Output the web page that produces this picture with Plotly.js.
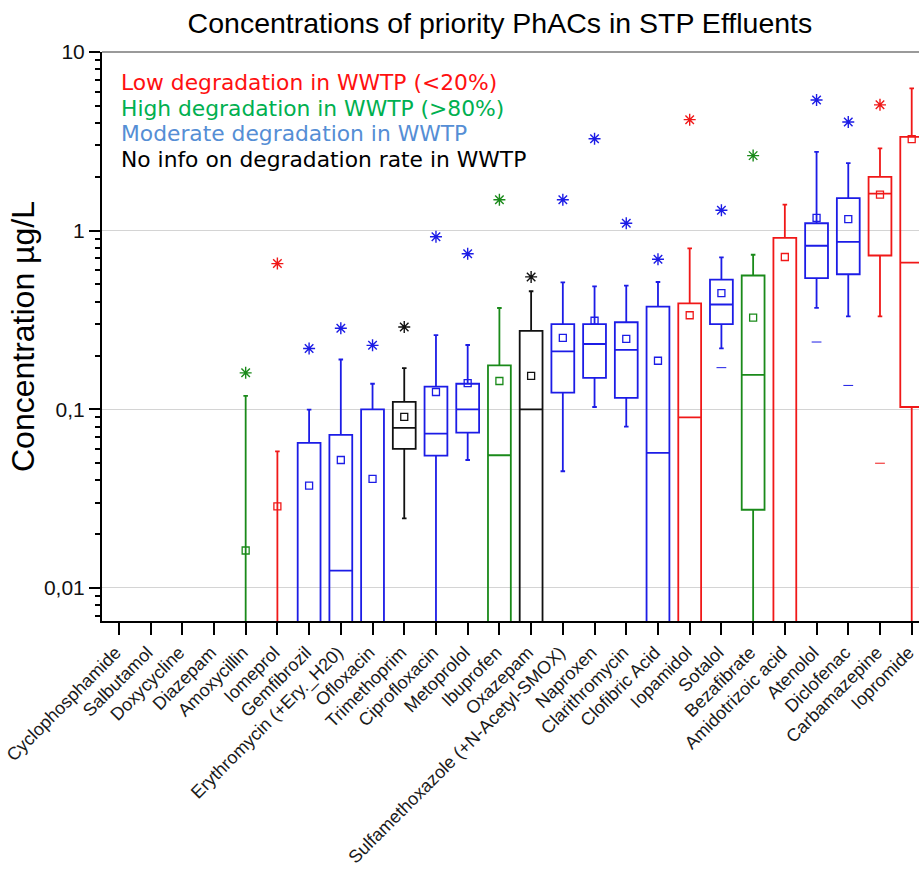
<!DOCTYPE html>
<html>
<head>
<meta charset="utf-8">
<script src="https://cdn.plot.ly/plotly-3.0.1.min.js"></script>
<style>html,body{margin:0;padding:0;background:#fff;overflow:hidden}</style>
</head>
<body>
<div id="chart" style="width:919px;height:869px"></div>
<script>
// ---- data (µg/L) ----
const categories = ['Cyclophosphamide','Salbutamol','Doxycycline','Diazepam','Amoxycillin','Iomeprol','Gemfibrozil',
  'Erythromycin (+Ery._H20)','Ofloxacin','Trimethoprim','Ciprofloxacin','Metoprolol','Ibuprofen','Oxazepam',
  'Sulfamethoxazole (+N-Acetyl-SMOX)','Naproxen','Clarithromycin','Clofibric Acid','Iopamidol','Sotalol',
  'Bezafibrate','Amidotrizoic acid','Atenolol','Diclofenac','Carbamazepine','Iopromide'];
// degradation class of each compound
const degradation = [null,null,null,null,'high','low','moderate','moderate','moderate','none','moderate','moderate',
  'high','none','moderate','moderate','moderate','moderate','low','moderate','high','low','moderate','moderate','low','low'];
// values below the lower edge of the axis (not readable) are given as 0.002
const whiskerLow = [null,null,null,null,0.002,0.002,0.002,0.002,0.002,0.0245,0.002,0.052,0.002,0.002,0.045,0.103,0.080,0.002,0.002,0.219,0.002,0.002,0.370,0.331,0.331,0.002];
const q1Values   = [null,null,null,null,0.002,0.002,0.002,0.002,0.002,0.060,0.055,0.0741,0.002,0.002,0.124,0.150,0.116,0.002,0.002,0.300,0.0274,0.002,0.542,0.570,0.726,0.103];
const medians    = [null,null,null,null,0.002,0.002,0.002,0.0125,0.002,0.0787,0.0731,0.100,0.0553,0.100,0.211,0.232,0.215,0.057,0.0902,0.386,0.156,0.002,0.823,0.865,1.61,0.662];
const q3Values   = [null,null,null,null,0.002,0.002,0.0649,0.0719,0.100,0.110,0.134,0.139,0.176,0.275,0.300,0.300,0.307,0.376,0.392,0.532,0.561,0.912,1.10,1.52,2.00,3.35];
const whiskerHigh= [null,null,null,null,0.119,0.0582,0.0996,0.190,0.139,0.170,0.260,0.229,0.369,0.458,0.514,0.488,0.492,0.516,0.796,0.709,0.733,1.40,2.76,2.39,2.89,6.26];
const means      = [null,null,null,null,0.0162,0.0286,0.0374,0.052,0.0408,0.0906,0.125,0.140,0.144,0.154,0.251,0.313,0.248,0.187,0.336,0.447,0.326,0.712,1.18,1.16,1.59,3.25];
const maxima     = [null,null,null,null,0.16,0.654,0.219,0.284,0.228,0.289,0.925,0.743,1.49,0.551,1.49,3.27,1.10,0.691,4.18,1.30,2.63,null,5.39,4.06,5.06,null];
const minima     = [null,null,null,null,null,null,null,null,null,null,null,null,null,null,null,null,null,null,null,0.171,null,null,0.238,0.136,0.0499,null];

const legendLines = [
  {key:'low', text:'Low degradation in WWTP (<20%)', color:'#ff1010'},
  {key:'high', text:'High degradation in WWTP (>80%)', color:'#00b050'},
  {key:'moderate', text:'Moderate degradation in WWTP', color:'#558ed5'},
  {key:'none', text:'No info on degradation rate in WWTP', color:'#000000'}
];
const boxColors = {low:'#f01818', high:'#1a8a1a', moderate:'#1c1ce6', none:'#111111'};

// ---- traces ----
const traces = [];
['moderate','high','none','low'].forEach(function(g){
  const idx = [];
  categories.forEach(function(c,i){ if (degradation[i] === g) idx.push(i); });
  const col = boxColors[g];
  traces.push({
    type:'box', x: idx, q1: idx.map(i=>q1Values[i]), median: idx.map(i=>medians[i]), q3: idx.map(i=>q3Values[i]),
    lowerfence: idx.map(i=>whiskerLow[i]), upperfence: idx.map(i=>whiskerHigh[i]),
    width: 0.72, whiskerwidth: 0.2, boxpoints:false, fillcolor:'rgba(0,0,0,0)',
    line:{color:col, width:1.8}, showlegend:false, hoverinfo:'skip'
  });
  traces.push({
    type:'scatter', mode:'markers', x: idx, y: idx.map(i=>means[i]), showlegend:false, hoverinfo:'skip',
    marker:{symbol:'square-open', size:7, color:col, line:{color:col, width:1.3}}
  });
  const mx = idx.filter(i=>maxima[i]!==null);
  traces.push({
    type:'scatter', mode:'markers', x: mx, y: mx.map(i=>maxima[i]), showlegend:false, hoverinfo:'skip',
    marker:{symbol:'asterisk-open', size:10, color:col, line:{color:col, width:1.4}}
  });
  const mn = idx.filter(i=>minima[i]!==null);
  traces.push({
    type:'scatter', mode:'markers', x: mn, y: mn.map(i=>minima[i]), showlegend:false, hoverinfo:'skip',
    marker:{symbol:'line-ew-open', size:7, color:col, line:{color:col, width:1}}
  });
});
// empty trace so that the minor-tick axis (y2) is drawn
traces.push({type:'scatter', mode:'markers', x:[], y:[], yaxis:'y2', showlegend:false, hoverinfo:'skip'});

// minor log ticks (2..9 of each decade)
const minorTicks = [];
[0.001, 0.01, 0.1, 1].forEach(function(d){ for (let k = 2; k <= 9; k++) minorTicks.push(d * k); });

const annotations = legendLines.map(function(l,k){
  return {xref:'paper', yref:'paper', x:0.021, y:0.946 - k*0.0448, xanchor:'left', yanchor:'middle',
    text:l.text, showarrow:false, font:{family:'DejaVu Sans, Verdana, sans-serif', size:21.8, color:l.color}};
});

const yRange = [Math.log10(0.00653), 1];

const layout = {
  width:919, height:869,
  margin:{l:102, r:0, t:52, b:248},
  paper_bgcolor:'#ffffff', plot_bgcolor:'#ffffff',
  separators:',.',
  font:{family:'Liberation Sans, Arial, sans-serif', color:'#000'},
  showlegend:false,
  title:{text:'Concentrations of priority PhACs in STP Effluents', font:{size:28.5, color:'#000'},
    x:0.544, xref:'container', xanchor:'center', y:0.973, yref:'container', yanchor:'middle'},
  xaxis:{range:[-0.53, 25.23], tickmode:'array', tickvals: categories.map((c,i)=>i), ticktext: categories,
    tickangle:-45, ticks:'outside', ticklen:12, tickwidth:2, tickcolor:'#000', ticklabeloverflow:'allow',
    ticklabelshift:-3,
    showline:true, linecolor:'#000', linewidth:2, showgrid:false, zeroline:false,
    tickfont:{size:18, color:'#1a1a1a'}},
  yaxis:{type:'log', range:yRange, tickmode:'linear', tick0:0, dtick:1,
    ticks:'outside', ticklen:11, tickwidth:2, tickcolor:'#000',
    showline:true, linecolor:'#000', linewidth:2, showgrid:true, gridcolor:'#d4d4d4', gridwidth:1, zeroline:false,
    tickfont:{size:21, color:'#111'},
    title:{text:'Concentration µg/L', font:{size:32, color:'#000'}, standoff:0}},
  yaxis2:{type:'log', range:yRange, overlaying:'y', side:'left', anchor:'x', tickmode:'array', tickvals:minorTicks,
    ticks:'outside', ticklen:6, tickwidth:2, tickcolor:'#000', showticklabels:false, showline:false,
    showgrid:false, zeroline:false},
  annotations: annotations,
  shapes:[{type:'line', xref:'paper', yref:'paper', x0:0, x1:1, y0:1, y1:1, line:{color:'#9a9a9a', width:2}}]
};

Plotly.newPlot('chart', traces, layout, {displayModeBar:false, staticPlot:true});
</script>
</body>
</html>
